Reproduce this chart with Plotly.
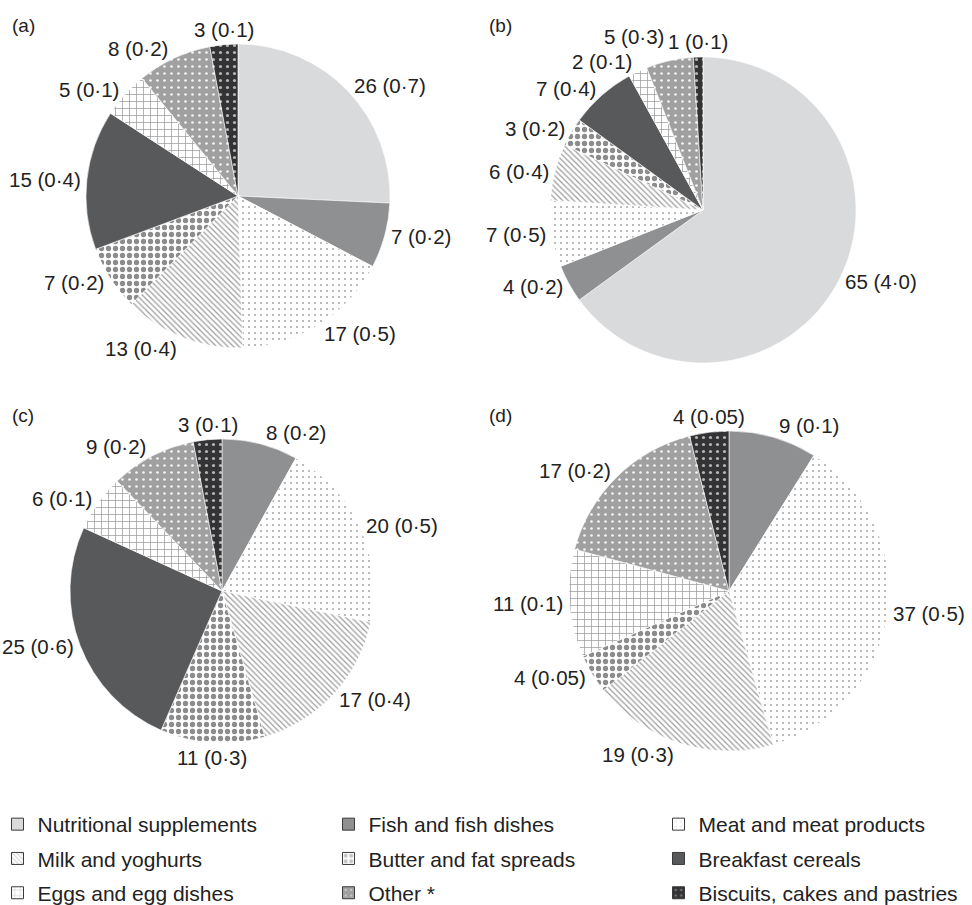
import math
import plotly.graph_objects as go

categories = ["Nutritional supplements", "Fish and fish dishes", "Meat and meat products",
              "Milk and yoghurts", "Butter and fat spreads", "Breakfast cereals",
              "Eggs and egg dishes", "Other *", "Biscuits, cakes and pastries"]

# percentage contribution and mean intake (None = category absent in that panel)
pct_a = [26, 7, 17, 13, 7, 15, 5, 8, 3]
mean_a = [0.7, 0.2, 0.5, 0.4, 0.2, 0.4, 0.1, 0.2, 0.1]
pct_b = [65, 4, 7, 6, 3, 7, 2, 5, 1]
mean_b = [4.0, 0.2, 0.5, 0.4, 0.2, 0.4, 0.1, 0.3, 0.1]
pct_c = [None, 8, 20, 17, 11, 25, 6, 9, 3]
mean_c = [None, 0.2, 0.5, 0.4, 0.3, 0.6, 0.1, 0.2, 0.1]
pct_d = [None, 9, 37, 19, 4, None, 11, 17, 4]
mean_d = [None, 0.1, 0.5, 0.3, 0.05, None, 0.1, 0.2, 0.05]
panel_names = ["(a)", "(b)", "(c)", "(d)"]
# legend laid out in three columns
legend_cols = [["Nutritional supplements", "Milk and yoghurts", "Eggs and egg dishes"],
               ["Fish and fish dishes", "Butter and fat spreads", "Other *"],
               ["Meat and meat products", "Breakfast cereals", "Biscuits, cakes and pastries"]]

# style per category: (base colour, pattern shape, fg, bg, size, solidity)
styles = {
    "Nutritional supplements": ("#d9dadc", "", None, None, None, None),
    "Fish and fish dishes": ("#8f9092", "", None, None, None, None),
    "Meat and meat products": ("#ffffff", ".", "#9a9a9a", "#ffffff", 6, 0.07),
    "Milk and yoghurts": ("#ffffff", "\\", "#9c9c9c", "#ffffff", 4, 0.3),
    "Butter and fat spreads": ("#ffffff", ".", "#8c8c8c", "#ffffff", 7, 0.45),
    "Breakfast cereals": ("#58595b", "", None, None, None, None),
    "Eggs and egg dishes": ("#ffffff", "+", "#9a9a9a", "#ffffff", 7, 0.2),
    "Other *": ("#a0a0a0", ".", "#f4f4f4", "#a0a0a0", 7, 0.12),
    "Biscuits, cakes and pastries": ("#333335", ".", "#b4b4b4", "#333335", 7, 0.16),
}

W, H = 972, 905
FS = 20.5          # label font size
LFS = 21           # legend font size
geom = [(238, 196, 152), (703, 210, 153), (222, 591, 152), (729, 591, 160)]
title_pos = [(10, 26), (487, 26), (10, 415), (487, 415)]
legend_col_x = [-2.5, 328.5, 658.5]
legend_top = 804

CW = {"(": 0.333, ")": 0.333, " ": 0.278, "·": 0.3}


def fmt(v):
    return str(v).replace(".", "·")


def text_w(s, fs):
    return sum(CW.get(ch, 0.556) for ch in s) * fs


def pattern_of(st):
    if st[1] == "":
        return dict(shape="")
    return dict(shape=st[1], fgcolor=st[2], bgcolor=st[3], size=st[4], solidity=st[5])


fig = go.Figure()
annotations = []
for (pct, mean), (cx, cy, r) in zip([(pct_a, mean_a), (pct_b, mean_b), (pct_c, mean_c), (pct_d, mean_d)], geom):
    labs, vals, txt = [], [], []
    for c, p, m in zip(categories, pct, mean):
        if p is None:
            continue
        labs.append(c); vals.append(p); txt.append(f"{p} ({fmt(m)})")
    st = [styles[l] for l in labs]
    fig.add_trace(go.Pie(
        labels=labs, values=vals, textinfo="none",
        sort=False, direction="clockwise", rotation=0, showlegend=False,
        marker=dict(colors=[s[0] for s in st],
                    line=dict(color="white", width=0.6),
                    pattern=dict(shape=[s[1] for s in st],
                                 fgcolor=[s[2] or s[0] for s in st],
                                 bgcolor=[s[3] or s[0] for s in st],
                                 size=[s[4] or 8 for s in st],
                                 solidity=[s[5] or 0.3 for s in st])),
        domain=dict(x=[(cx - r) / W, (cx + r) / W], y=[1 - (cy + r) / H, 1 - (cy - r) / H]),
        hoverinfo="label+percent",
    ))

    # outside labels placed from the slice mid-angles
    total = sum(vals)
    cum = 0
    placed = []
    h = FS * 1.2
    for v, t in zip(vals, txt):
        mid = (cum + v / 2) / total * 2 * math.pi
        cum += v
        s, c = math.sin(mid), math.cos(mid)
        px, py = cx + r * s, cy - r * c
        w = text_w(t, FS)
        if abs(s) < 0.2:
            tx = px
            ty = py + (-h / 2 - 3 if c > 0 else h / 2 + 3)
        else:
            dx = w / 2 * (1 if s > 0 else -1)
            dy = h / 2 * (-1 if c > 0 else 1)
            tx = px + dx + abs(dy) * (1 if dx > 0 else -1) / 2
            ty = py + dy / (1 + (s * s) / (c * c + 1e-9))
        step = -2 if c > 0 else 2
        for _ in range(60):
            clash = any(abs(tx - ox) < (w + ow) / 2 + 2 and abs(ty - oy) < h - 2 for ox, oy, ow in placed)
            if not clash:
                break
            ty += step
        placed.append((tx, ty, w))
        annotations.append(dict(text=t, x=tx / W, y=1 - ty / H, xref="paper", yref="paper",
                                xanchor="center", yanchor="middle", showarrow=False,
                                font=dict(size=FS, color="#222")))

for name, (x, y) in zip(panel_names, title_pos):
    annotations.append(dict(text=name, x=x / W, y=1 - y / H, xref="paper", yref="paper",
                            xanchor="left", yanchor="middle", showarrow=False,
                            font=dict(size=19, color="#222")))

# legend entries: one vertical legend per column
legend_ids = ["legend", "legend2", "legend3"]
for lid, col in zip(legend_ids, legend_cols):
    for cat in col:
        st = styles[cat]
        fig.add_trace(go.Bar(x=[None], y=[None], name=cat, legend=lid, legendgroup=cat,
                             showlegend=True,
                             marker=dict(color=st[0], pattern=pattern_of(st),
                                         line=dict(color="#3a3a3a", width=1)),
                             hoverinfo="skip"))

legend_cfg = {}
for lid, lx in zip(legend_ids, legend_col_x):
    legend_cfg[lid] = dict(orientation="v", x=lx / W, y=1 - legend_top / H,
                           xanchor="left", yanchor="top", tracegroupgap=4,
                           font=dict(size=LFS, color="#222"), itemwidth=30,
                           bgcolor="rgba(0,0,0,0)", traceorder="grouped")

fig.update_layout(
    width=W, height=H, margin=dict(l=0, r=0, t=0, b=0, autoexpand=False),
    paper_bgcolor="white", plot_bgcolor="white",
    font=dict(family="Liberation Sans, Arial, sans-serif", size=20, color="#222"),
    xaxis=dict(visible=False), yaxis=dict(visible=False),
    annotations=annotations,
    **legend_cfg,
)

fig.write_html("out.html", config={"displayModeBar": False},
               post_script="document.body.style.margin='0px';")
